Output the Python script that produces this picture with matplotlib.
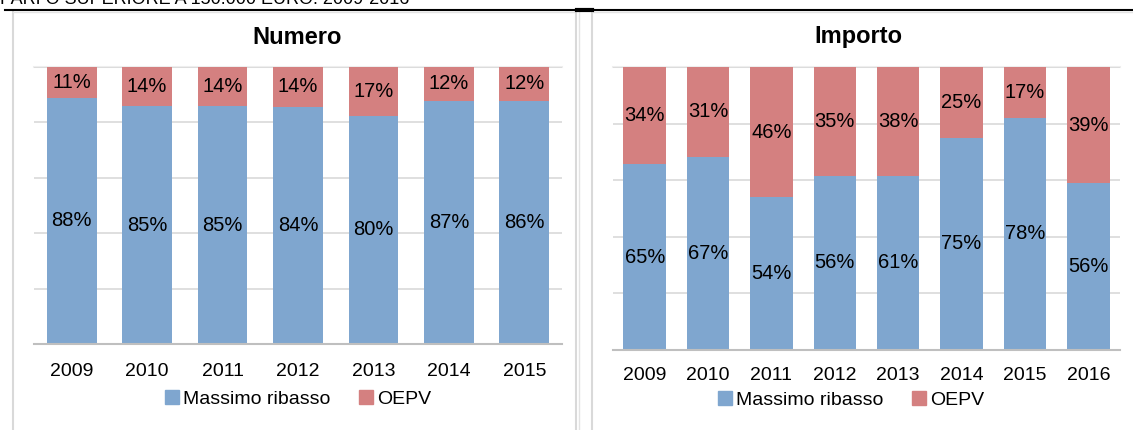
import matplotlib
matplotlib.use("Agg")
import matplotlib.pyplot as plt
from matplotlib.lines import Line2D
from matplotlib.patches import Patch
import numpy as np

plt.rcParams['font.family'] = ['Liberation Sans Narrow', 'Liberation Sans', 'DejaVu Sans']

# dati
anni_numero = ["2009", "2010", "2011", "2012", "2013", "2014", "2015"]
ribasso_numero = [88, 85, 85, 84, 80, 87, 86]
oepv_numero = [11, 14, 14, 14, 17, 12, 12]

anni_importo = ["2009", "2010", "2011", "2012", "2013", "2014", "2015", "2016"]
ribasso_importo = [65, 67, 54, 56, 61, 75, 78, 56]
oepv_importo = [34, 31, 46, 35, 38, 25, 17, 39]

BLUE = "#7fa6cf"
RED = "#d48080"
W, H = 1133, 430
FS = 14

fig = plt.figure(figsize=(W / 100, H / 100), dpi=100)


def px_axes(x0, y0, x1, y1):
    return fig.add_axes([x0 / W, 1 - y1 / H, (x1 - x0) / W, (y1 - y0) / H])


def stacked(ax, anni, rib, oepv, width):
    rib = np.array(rib, float)
    oepv = np.array(oepv, float)
    tot = rib + oepv
    b = rib / tot
    r = oepv / tot
    x = np.arange(len(anni))
    ax.bar(x, b, width, color=BLUE, zorder=2)
    ax.bar(x, r, width, bottom=b, color=RED, zorder=2)
    for i in range(len(anni)):
        ax.text(x[i], b[i] / 2, f"{int(rib[i])}%", ha="center", va="center", fontsize=FS + 0.5, zorder=3)
        ax.text(x[i], b[i] + r[i] / 2, f"{int(oepv[i])}%", ha="center", va="center", fontsize=FS + 0.5, zorder=3)
    ax.set_xlim(-0.5, len(anni) - 0.5)
    ax.set_ylim(0, 1)
    ax.set_yticks(np.linspace(0, 1, 6))
    ax.yaxis.grid(True, color="#d9d9d9", linewidth=1.2, zorder=0)
    ax.axhline(1.0, color="#eeeeee", linewidth=1.5, zorder=0, clip_on=False)
    ax.set_yticklabels([])
    ax.tick_params(axis="y", length=0)
    ax.set_xticks(x)
    ax.set_xticklabels(anni, fontsize=FS)
    ax.tick_params(axis="x", length=0, pad=14)
    for s in ["top", "right", "left"]:
        ax.spines[s].set_visible(False)
    ax.spines["bottom"].set_color("#bfbfbf")
    ax.spines["bottom"].set_linewidth(1.5)
    ax.set_axisbelow(True)
    handles = [Patch(color=BLUE, label="Massimo ribasso"), Patch(color=RED, label="OEPV")]
    return handles


ax1 = px_axes(34, 67, 562, 344)
h = stacked(ax1, anni_numero, ribasso_numero, oepv_numero, 0.66)
ax1.legend(handles=h, ncol=2, frameon=False, fontsize=FS, loc="center",
           bbox_to_anchor=(0.5, (344 - 399) / 277), handlelength=0.7, handleheight=0.7,
           handletextpad=0.2, columnspacing=1.5, borderaxespad=0)

ax2 = px_axes(613, 67, 1120, 350)
h = stacked(ax2, anni_importo, ribasso_importo, oepv_importo, 0.67)
ax2.tick_params(axis="x", pad=12)
ax2.legend(handles=h, ncol=2, frameon=False, fontsize=FS, loc="center",
           bbox_to_anchor=((851 - 613) / 507, (350 - 400) / 283), handlelength=0.7, handleheight=0.7,
           handletextpad=0.2, columnspacing=1.5, borderaxespad=0)

fig.text(297 / W, 1 - 38 / H, "Numero", ha="center", va="center", fontsize=17, fontweight="bold")
fig.text(858 / W, 1 - 37 / H, "Importo", ha="center", va="center", fontsize=17, fontweight="bold")

# intestazione tagliata in alto
fig.text(0, 1 - 4 / H, "PARI O SUPERIORE A 150.000 EURO. 2009-2016", ha="left", va="baseline",
         fontsize=13)


def fline(xs, ys, **kw):
    fig.add_artist(Line2D([x / W for x in xs], [1 - y / H for y in ys], transform=fig.transFigure, **kw))


# cornici dei pannelli
fline([13, 13], [12, 430], color="#d9d9d9", linewidth=1.5)
fline([13, 576], [12, 12], color="#e3e3e3", linewidth=1.0)
fline([576, 576], [12, 430], color="#d9d9d9", linewidth=1.5)
fline([579, 579], [12, 430], color="#e3e3e3", linewidth=1.0)
fline([592, 592], [12, 430], color="#d9d9d9", linewidth=1.5)
fline([592, 1133], [12, 12], color="#e3e3e3", linewidth=1.0)
fline([5, 1133], [9.5, 9.5], color="black", linewidth=1.5)
fline([577, 592], [9.5, 9.5], color="black", linewidth=3)

fig.savefig("out.png", dpi=100)
